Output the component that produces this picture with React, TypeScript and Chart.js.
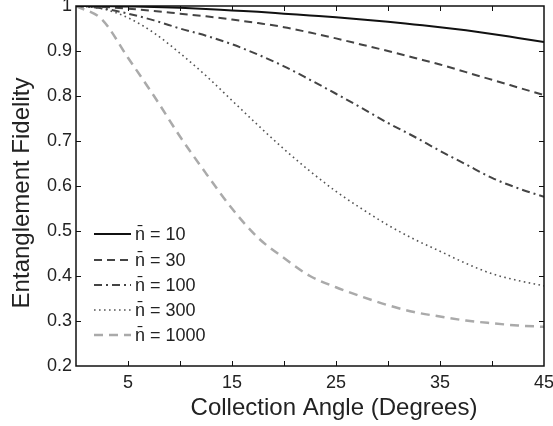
import React, { useEffect, useRef } from "react";
import { Chart, registerables } from "chart.js";

Chart.register(...registerables);

const angles = [0, 2.5, 5, 7.5, 10, 12.5, 15, 17.5, 20, 22.5, 25, 27.5, 30, 32.5, 35, 37.5, 40, 42.5, 45];
const n10 = [1, 0.9998, 0.999, 0.998, 0.996, 0.9935, 0.99, 0.987, 0.983, 0.979, 0.975, 0.97, 0.965, 0.959, 0.953, 0.946, 0.938, 0.929, 0.92];
const n30 = [1, 0.998, 0.994, 0.989, 0.983, 0.977, 0.97, 0.962, 0.953, 0.941, 0.928, 0.914, 0.9, 0.885, 0.87, 0.853, 0.836, 0.819, 0.802];
const n100 = [1, 0.995, 0.983, 0.968, 0.95, 0.934, 0.915, 0.892, 0.866, 0.836, 0.805, 0.773, 0.74, 0.71, 0.678, 0.648, 0.618, 0.595, 0.576];
const n300 = [1, 0.994, 0.974, 0.94, 0.895, 0.845, 0.79, 0.735, 0.682, 0.633, 0.588, 0.549, 0.513, 0.482, 0.455, 0.428, 0.405, 0.39, 0.378];
const n1000 = [1, 0.97, 0.885, 0.8, 0.71, 0.628, 0.55, 0.485, 0.44, 0.4, 0.375, 0.354, 0.335, 0.32, 0.31, 0.301, 0.295, 0.29, 0.287];
const seriesLabels = ["n\u0304 = 10", "n\u0304 = 30", "n\u0304 = 100", "n\u0304 = 300", "n\u0304 = 1000"];
const xLabeled = [5, 15, 25, 35, 45];
const xTitle = "Collection Angle (Degrees)";
const yTitle = "Entanglement Fidelity";

const FONT = "'Liberation Sans', Arial, Helvetica, sans-serif";

const styles = [
  { color: "#111111", width: 2, dash: [] as number[] },
  { color: "#444444", width: 2, dash: [8, 5] },
  { color: "#444444", width: 2, dash: [8, 4, 2, 4] },
  { color: "#555555", width: 1.6, dash: [1.6, 3.4] },
  { color: "#aaaaaa", width: 2.5, dash: [9, 6] },
];

const framePlugin = {
  id: "framePlugin",
  afterDraw(chart: any) {
    const { ctx, chartArea } = chart;
    const { left, right, top, bottom } = chartArea;
    const xs = chart.scales.x;
    const ys = chart.scales.y;
    ctx.save();
    ctx.strokeStyle = "#111";
    ctx.lineWidth = 1;
    ctx.setLineDash([]);
    ctx.beginPath();
    for (let v = 5; v < 45; v += 5) {
      const px = Math.round(xs.getPixelForValue(v)) + 0.5;
      ctx.moveTo(px, bottom);
      ctx.lineTo(px, bottom - 5);
      ctx.moveTo(px, top);
      ctx.lineTo(px, top + 5);
    }
    for (let i = 3; i <= 9; i++) {
      const py = Math.round(ys.getPixelForValue(i / 10)) + 0.5;
      ctx.moveTo(left, py);
      ctx.lineTo(left + 5, py);
      ctx.moveTo(right, py);
      ctx.lineTo(right - 5, py);
    }
    ctx.stroke();
    ctx.lineWidth = 1.5;
    ctx.strokeStyle = "#111";
    ctx.strokeRect(left, top, right - left, bottom - top);

    const rows = [234, 260, 285, 310, 335];
    ctx.font = `18px ${FONT}`;
    ctx.textBaseline = "middle";
    ctx.textAlign = "left";
    chart.data.datasets.forEach((ds: any, i: number) => {
      const y = rows[i];
      ctx.beginPath();
      ctx.strokeStyle = ds.borderColor;
      ctx.lineWidth = ds.borderWidth;
      ctx.setLineDash(ds.borderDash || []);
      ctx.moveTo(94, y);
      ctx.lineTo(131, y);
      ctx.stroke();
      ctx.setLineDash([]);
      ctx.fillStyle = "#222";
      ctx.fillText(ds.label, 135, y + 1);
    });

    ctx.fillStyle = "#222";
    ctx.font = `24px ${FONT}`;
    ctx.textAlign = "center";
    ctx.textBaseline = "alphabetic";
    ctx.fillText(xTitle, 334, 415);
    ctx.save();
    ctx.translate(29, 193);
    ctx.rotate(-Math.PI / 2);
    ctx.fillText(yTitle, 0, 0);
    ctx.restore();
    ctx.restore();
  },
};

export default function App() {
  const ref = useRef<HTMLCanvasElement | null>(null);
  useEffect(() => {
    if (!ref.current) return;
    const series = [n10, n30, n100, n300, n1000];
    const chart = new Chart(ref.current, {
      type: "line",
      data: {
        datasets: series.map((vals, i) => ({
          label: seriesLabels[i],
          data: angles.map((a, j) => ({ x: a, y: vals[j] })),
          borderColor: styles[i].color,
          borderWidth: styles[i].width,
          borderDash: styles[i].dash,
          pointRadius: 0,
          fill: false,
          cubicInterpolationMode: "monotone" as const,
        })),
      },
      options: {
        animation: false,
        responsive: false,
        maintainAspectRatio: false,
        layout: { padding: { top: 6, right: 9, left: 0, bottom: 0 } },
        plugins: { legend: { display: false }, tooltip: { enabled: false } },
        scales: {
          x: {
            type: "linear",
            min: 0,
            max: 45,
            grid: { display: false, drawTicks: false },
            border: { display: false },
            ticks: {
              stepSize: 5,
              padding: 6,
              color: "#222",
              font: { family: FONT, size: 18 },
              maxRotation: 0,
              autoSkip: false,
              callback: (v: any) => (xLabeled.includes(Number(v)) ? String(v) : ""),
            },
            afterFit: (s: any) => {
              s.height = 60;
              s.paddingLeft = 0;
              s.paddingRight = 0;
              s.paddingTop = 0;
              s.paddingBottom = 0;
            },
          },
          y: {
            type: "linear",
            min: 0.2,
            max: 1,
            grid: { display: false, drawTicks: false },
            border: { display: false },
            ticks: {
              stepSize: 0.1,
              padding: 4,
              color: "#222",
              font: { family: FONT, size: 18 },
              autoSkip: false,
              callback: (v: any) => {
                const n = Number(v);
                return Math.abs(n - 1) < 1e-9 ? "1" : n.toFixed(1);
              },
            },
            afterFit: (s: any) => {
              s.width = 76;
              s.paddingLeft = 0;
              s.paddingRight = 0;
              s.paddingTop = 0;
              s.paddingBottom = 0;
            },
          },
        },
      },
      plugins: [framePlugin],
    });
    return () => chart.destroy();
  }, []);
  return (
    <div style={{ position: "fixed", left: 0, top: 0, width: 553, height: 426, background: "#fff" }}>
      <canvas ref={ref} width={553} height={426} style={{ width: 553, height: 426 }} />
    </div>
  );
}
